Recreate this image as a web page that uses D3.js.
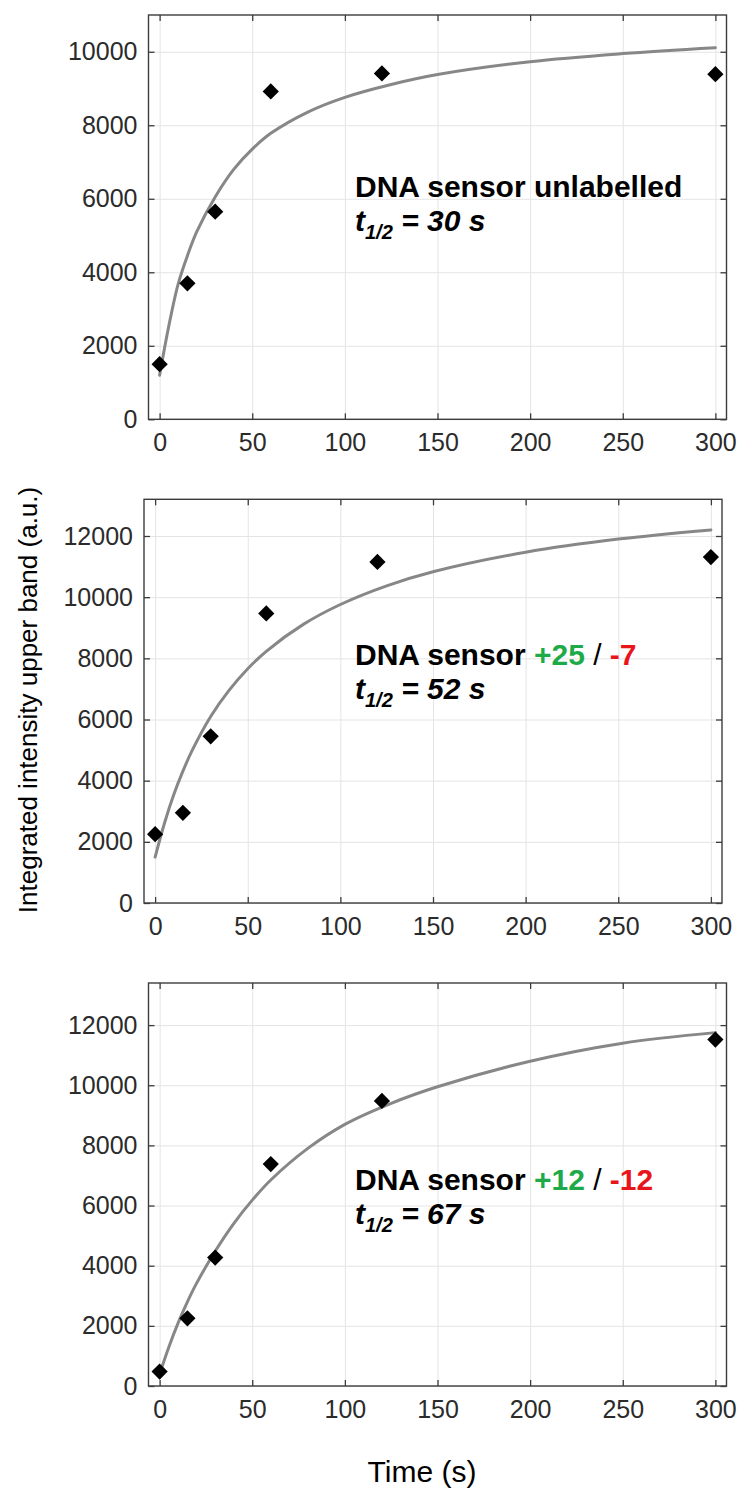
<!DOCTYPE html>
<html>
<head>
<meta charset="utf-8">
<script src="https://cdn.jsdelivr.net/npm/d3@7"></script>
<style>
  html, body { margin: 0; padding: 0; background: #fff; }
  svg { display: block; }
  text { font-family: "Liberation Sans", Arial, Helvetica, sans-serif; }
</style>
</head>
<body>
<svg id="chart" width="741" height="1491"></svg>
<script>
// ---------- data ----------
const times = [0, 15, 30, 60, 120, 300];
const unlabelled = [1500, 3700, 5650, 8920, 9410, 9390];
const sensor25_7 = [2250, 2950, 5450, 9470, 11150, 11310];
const sensor12_12 = [480, 2250, 4270, 7380, 9480, 11520];

const fitTimes = [0, 5, 10, 15, 20, 30, 40, 50, 60, 80, 100, 125, 150, 200, 250, 300];
const fitUnlabelled = [1200, 2550, 3680, 4450, 5100, 6050, 6800, 7350, 7780, 8360, 8760, 9110, 9380, 9730, 9950, 10110];
const fit25_7 = [1500, 2600, 3530, 4310, 4990, 6100, 6960, 7660, 8230, 9110, 9760, 10370, 10830, 11470, 11900, 12200];
const fit12_12 = [400, 1300, 2100, 2800, 3420, 4480, 5400, 6180, 6850, 7900, 8700, 9400, 9950, 10800, 11400, 11750];

const xTickValues = [0, 50, 100, 150, 200, 250, 300];
const yTicksP1 = [0, 2000, 4000, 6000, 8000, 10000];
const yTicksP2 = [0, 2000, 4000, 6000, 8000, 10000, 12000];
const yTicksP3 = [0, 2000, 4000, 6000, 8000, 10000, 12000];
const yMaxes = [11000, 13200, 13400];
const xDomain = [-6, 306];

const sensorNames = ["DNA sensor unlabelled", "DNA sensor ", "DNA sensor "];
const plusLabels = ["", "+25", "+12"];
const minusLabels = ["", "-7", "-12"];
const halfLives = ["30", "52", "67"];

const yTitle = "Integrated intensity upper band (a.u.)";
const xTitle = "Time (s)";

// ---------- layout ----------
const panels = [
  { left: 148.5, right: 726.5, top: 15,    bottom: 419.3, values: unlabelled,  fit: fitUnlabelled, yTicks: yTicksP1, yMax: yMaxes[0], textY: 197 },
  { left: 144,   right: 722,   top: 499.3, bottom: 903,   values: sensor25_7,  fit: fit25_7,       yTicks: yTicksP2, yMax: yMaxes[1], textY: 665 },
  { left: 148.5, right: 726.5, top: 983,   bottom: 1386,  values: sensor12_12, fit: fit12_12,     yTicks: yTicksP3, yMax: yMaxes[2], textY: 1190 }
];

const svg = d3.select("#chart");
const gridColor = "#e4e4e4";
const axisColor = "#3c3c3c";
const labelColor = "#2b2b2b";
const green = "#1faa4a";
const red = "#e8161b";

panels.forEach((p, i) => {
  const x = d3.scaleLinear().domain(xDomain).range([p.left, p.right]);
  const y = d3.scaleLinear().domain([0, p.yMax]).range([p.bottom, p.top]);
  const w = p.right - p.left, h = p.bottom - p.top;
  const g = svg.append("g");

  // grid
  g.append("g").attr("transform", `translate(0,${p.bottom})`)
    .call(d3.axisBottom(x).tickValues(xTickValues).tickSize(-h).tickFormat(""))
    .call(s => { s.select(".domain").remove(); s.selectAll("line").attr("stroke", gridColor).attr("stroke-width", 1); });
  g.append("g").attr("transform", `translate(${p.left},0)`)
    .call(d3.axisLeft(y).tickValues(p.yTicks).tickSize(-w).tickFormat(""))
    .call(s => { s.select(".domain").remove(); s.selectAll("line").attr("stroke", gridColor).attr("stroke-width", 1); });

  // fit curve
  const line = d3.line().x((d, k) => x(fitTimes[k])).y(d => y(d)).curve(d3.curveCatmullRom.alpha(0.5));
  g.append("path").datum(p.fit).attr("d", line)
    .attr("fill", "none").attr("stroke", "#878787").attr("stroke-width", 3).attr("stroke-linecap", "round");

  // markers
  const sym = d3.symbol().type(d3.symbolSquare).size(132);
  g.selectAll("path.pt").data(p.values).join("path").attr("class", "pt")
    .attr("d", sym)
    .attr("transform", (d, k) => `translate(${x(times[k])},${y(d)}) rotate(45)`)
    .attr("fill", "#000");

  // axes (inward ticks on all sides)
  const styleAxis = s => {
    s.select(".domain").remove();
    s.selectAll("line").attr("stroke", axisColor).attr("stroke-width", 1.3);
    s.selectAll("text").attr("fill", labelColor).attr("font-size", 25)
      .attr("font-family", '"Liberation Sans", Arial, sans-serif');
  };
  g.append("g").attr("transform", `translate(0,${p.bottom})`)
    .call(d3.axisBottom(x).tickValues(xTickValues).tickSize(-6).tickPadding(14).tickFormat(d3.format("d")))
    .call(styleAxis);
  g.append("g").attr("transform", `translate(0,${p.top})`)
    .call(d3.axisTop(x).tickValues(xTickValues).tickSize(-6).tickFormat(""))
    .call(styleAxis);
  g.append("g").attr("transform", `translate(${p.left},0)`)
    .call(d3.axisLeft(y).tickValues(p.yTicks).tickSize(-6).tickPadding(11).tickFormat(d3.format("d")))
    .call(styleAxis);
  g.append("g").attr("transform", `translate(${p.right},0)`)
    .call(d3.axisRight(y).tickValues(p.yTicks).tickSize(-6).tickFormat(""))
    .call(styleAxis);

  // frame
  g.append("rect").attr("x", p.left).attr("y", p.top).attr("width", w).attr("height", h)
    .attr("fill", "none").attr("stroke", axisColor).attr("stroke-width", 1.4);

  // annotation
  const t1 = g.append("text").attr("x", 355).attr("y", p.textY)
    .attr("font-size", 30).attr("font-weight", "bold").attr("fill", "#000");
  t1.append("tspan").text(sensorNames[i]);
  if (plusLabels[i]) {
    t1.append("tspan").attr("fill", green).text(plusLabels[i]);
    t1.append("tspan").attr("fill", "#000").attr("font-weight", "normal").text(" / ");
    t1.append("tspan").attr("fill", red).text(minusLabels[i]);
  }
  const t2 = g.append("text").attr("x", 355).attr("y", p.textY + 34)
    .attr("font-size", 30).attr("font-weight", "bold").attr("font-style", "italic").attr("fill", "#000");
  t2.append("tspan").text("t");
  t2.append("tspan").attr("font-size", 20).attr("dy", 8).text("1/2");
  t2.append("tspan").attr("dy", -8).text(" = " + halfLives[i] + " s");
});

// axis titles
svg.append("text").attr("transform", "translate(37,700) rotate(-90)")
  .attr("text-anchor", "middle").attr("font-size", 26).attr("fill", "#000").text(yTitle);
svg.append("text").attr("x", 422).attr("y", 1482)
  .attr("text-anchor", "middle").attr("font-size", 30).attr("fill", "#000").text(xTitle);
</script>
</body>
</html>
